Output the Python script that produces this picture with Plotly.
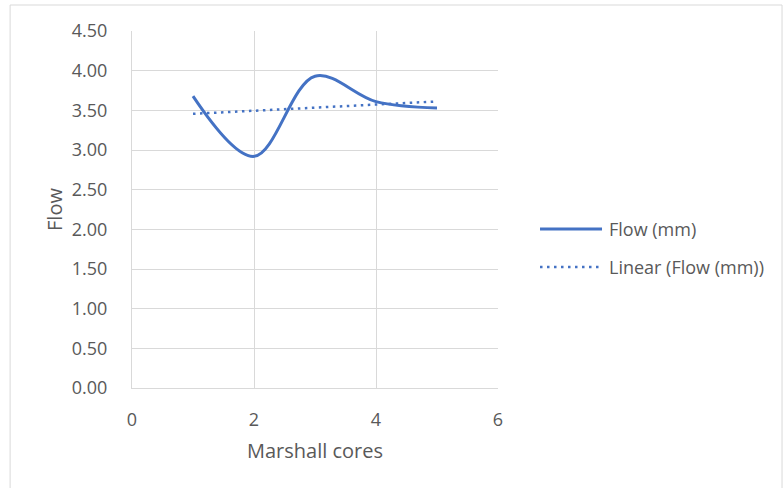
import numpy as np
import plotly.graph_objects as go

# Flow measurements per Marshall core
cores = [1, 2, 3, 4, 5]
flow_mm = [3.68, 2.92, 3.93, 3.61, 3.53]

x_ticks = [0, 2, 4, 6]
y_ticks = [0, 0.5, 1.0, 1.5, 2.0, 2.5, 3.0, 3.5, 4.0, 4.5]

series_names = ["Flow (mm)", "Linear (Flow (mm))"]

# Least-squares linear trend of the flow values
slope, intercept = np.polyfit(cores, flow_mm, 1)
trend_y = [slope * c + intercept for c in cores]

blue = "#4472C4"
text_grey = "#595959"
grid_grey = "#D9D9D9"
font_family = "Open Sans"
dotted = "2.5px,4.5px"

fig = go.Figure()
fig.add_trace(go.Scatter(
    x=cores, y=flow_mm, mode="lines", name=series_names[0],
    line=dict(color=blue, width=3, shape="spline", smoothing=1.0),
))
fig.add_trace(go.Scatter(
    x=cores, y=trend_y, mode="lines", name=series_names[1],
    line=dict(color=blue, width=2.5, dash=dotted),
))

# Legend drawn to the right of the plot area (paper coordinates)
legend_rows = [(0.4454, "solid", 3), (0.3389, dotted, 2.5)]
shapes = [dict(
    type="rect", xref="paper", yref="paper",
    x0=-0.333, x1=1.776, y0=-0.4, y1=1.0728,
    line=dict(color="#D9D9D9", width=1), fillcolor="rgba(0,0,0,0)",
    layer="below",
)]
annotations = []
for (ly, dash, w), name in zip(legend_rows, series_names):
    shapes.append(dict(
        type="line", xref="paper", yref="paper",
        x0=1.1148, x1=1.2842, y0=ly, y1=ly,
        line=dict(color=blue, width=w, dash=dash),
    ))
    annotations.append(dict(
        text=name, xref="paper", yref="paper", x=1.2978, y=ly,
        xanchor="left", yanchor="middle", showarrow=False,
        font=dict(family=font_family, size=18, color=text_grey),
    ))

fig.update_layout(
    width=783, height=488,
    margin=dict(l=132, r=285, t=31, b=100),
    paper_bgcolor="white", plot_bgcolor="white",
    font=dict(family=font_family, size=18, color=text_grey),
    showlegend=False,
    xaxis=dict(
        range=[0, 6], tickvals=x_ticks, ticktext=[str(v) for v in x_ticks],
        showgrid=True, gridcolor=grid_grey, gridwidth=1,
        showline=True, linecolor=grid_grey, zeroline=False,
        ticks="", ticklabelstandoff=15,
        tickfont=dict(family=font_family, size=18, color=text_grey),
        title=dict(text="Marshall cores", standoff=14,
                   font=dict(family=font_family, size=20, color=text_grey)),
    ),
    yaxis=dict(
        range=[0, 4.5], tickvals=y_ticks, ticktext=[f"{v:.2f}" for v in y_ticks],
        showgrid=True, gridcolor=grid_grey, gridwidth=1,
        showline=True, linecolor=grid_grey, zeroline=False,
        ticks="", ticklabelstandoff=20,
        tickfont=dict(family=font_family, size=18, color=text_grey),
        title=dict(text="Flow", standoff=3,
                   font=dict(family=font_family, size=20, color=text_grey)),
    ),
    shapes=shapes,
    annotations=annotations,
)

fig.write_html("out.html")
